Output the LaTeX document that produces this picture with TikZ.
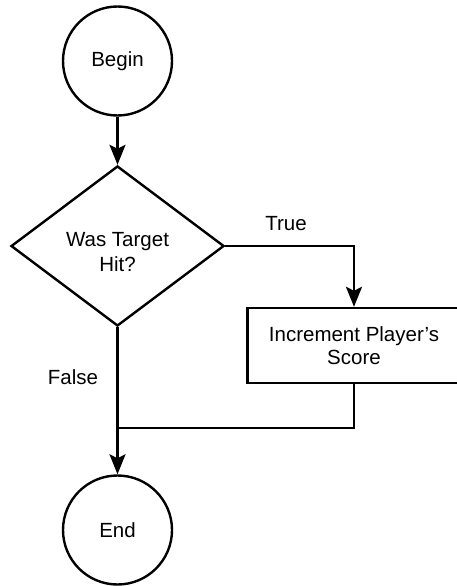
\documentclass[tikz,border=0pt]{standalone}
\usepackage{fontspec}
\setmainfont{Liberation Sans}
\usetikzlibrary{shapes.geometric,arrows.meta}
\begin{document}
\begin{tikzpicture}[x=1pt,y=-1pt,
  every node/.style={font=\fontsize{20.5}{24.5}\selectfont},
  terminal/.style={circle,draw,line width=2.4pt,minimum size=109pt,inner sep=0pt},
  decision/.style={diamond,draw,line width=2.4pt,minimum width=213pt,minimum height=160pt,inner sep=0pt},
  process/.style={rectangle,draw,line width=2.4pt,minimum width=213pt,minimum height=75pt,align=center,inner sep=0pt,font=\fontsize{20.5}{23}\selectfont},
  flow/.style={line width=2.4pt,-{Stealth[length=20pt,width=16pt,inset=4pt]}},
  link/.style={line width=2.4pt},
  lbl/.style={inner sep=0pt}]
\useasboundingbox (0,0) rectangle (457,586);
\node[terminal] (begin) at (117.5,61) {Begin};
\node[decision,label={[align=center,inner sep=0pt,yshift=-6pt]center:Was Target\\Hit?}] (dec) at (117.5,246) {};
\node[process] (proc) at (354,345.5) {Increment Player’s\\Score};
\node[terminal] (end) at (117.5,530) {End};
\coordinate (merge) at (117.5,428);
\node[lbl] (true) at (286,224) {True};
\node[lbl] (false) at (73,377) {False};
\draw[flow] (begin) -- (dec);
\draw[flow] (dec.east) -| (proc.north);
\draw[flow] (dec.south) -- (end.north);
\draw[link] (proc.south) |- (merge);
\end{tikzpicture}
\end{document}
